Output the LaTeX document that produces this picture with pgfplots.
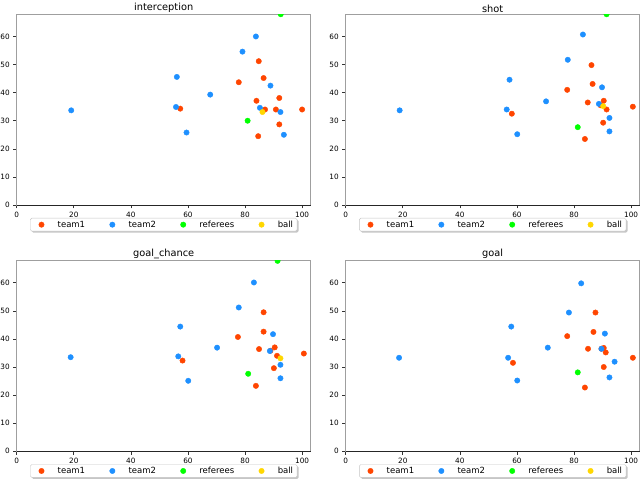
\documentclass[border=0pt]{standalone}
\usepackage{fontspec}
\setmainfont{DejaVu Sans}
\usepackage{pgfplots}
\pgfplotsset{compat=1.18}
\usetikzlibrary{shadows}

\definecolor{teamone}{HTML}{FF4500}
\definecolor{teamtwo}{HTML}{1E90FF}
\definecolor{refcol}{HTML}{00FF00}
\definecolor{ballcol}{HTML}{FFD700}

\pgfplotsset{
  every axis title shift=0pt,
  pitch/.style={
    scale only axis, width=294pt, height=191pt,
    xmin=0, xmax=103, ymin=0, ymax=68,
    xtick={0,20,...,100}, ytick={0,10,...,60},
    clip marker paths=true,
    tick align=outside, tick pos=left, major tick length=3.5pt,
    axis line style={gray!75, line width=0.6pt},
    tick style={black!80, line width=0.6pt},
    tick label style={font=\fontsize{7.3}{8}\selectfont},
    /pgf/number format/assume math mode=true,
    title style={font=\fontsize{9.8}{11}\selectfont, at={(0.5,1)}, anchor=south, inner sep=1pt, yshift=0.5pt},
    legend columns=4,
    legend style={at={(0.5,-0.068)}, anchor=north,
      font=\fontsize{8.5}{10}\selectfont, draw=gray!45, rounded corners=1.5pt, fill=white,
      drop shadow={shadow xshift=1.5pt, shadow yshift=-1.5pt, opacity=0.45, fill=gray},
      inner xsep=2pt, inner ysep=1pt,
      nodes={inner xsep=2pt, inner ysep=1.5pt},
      /tikz/every even column/.append style={column sep=16pt}},
    legend image code/.code={\path (-9pt,0pt) (14pt,0pt); \draw[#1] plot coordinates {(0pt,0pt)};},
    legend entries={team1,team2,referees,ball},
  },
  t1/.style={only marks, mark=*, mark size=2.7pt, color=teamone},
  t2/.style={only marks, mark=*, mark size=2.7pt, color=teamtwo},
  rf/.style={only marks, mark=*, mark size=2.7pt, color=refcol},
  bl/.style={only marks, mark=*, mark size=2.7pt, color=ballcol},
}

\begin{document}
\begin{tikzpicture}

% interception
\begin{axis}[pitch, at={(16.7pt,279pt)}, anchor=south west, name=tl, title={interception}]
\addplot[t1] coordinates {(57.3,34.3) (77.8,43.7) (84.8,51.2) (84.0,37.1) (86.5,45.2) (84.6,24.5) (87.0,34.0) (90.8,34.0) (92.0,38.1) (92.0,28.7) (100.0,34.0)};
\addplot[t2] coordinates {(19.1,33.7) (56.1,45.6) (55.8,34.9) (59.5,25.8) (67.8,39.3) (79.1,54.6) (83.8,60.0) (85.2,34.6) (88.9,42.5) (92.4,33.1) (93.6,25.0)};
\addplot[rf] coordinates {(92.5,67.9) (80.9,30.0)};
\addplot[bl] coordinates {(86.1,33.1)};
\end{axis}

% shot
\begin{axis}[pitch, at={(345.7pt,279pt)}, anchor=south west, name=tr, title={shot}]
\addplot[t1] coordinates {(58.2,32.5) (77.6,41.0) (86.1,49.8) (86.5,43.1) (84.8,36.5) (90.4,37.1) (89.3,35.5) (91.4,34.0) (90.2,29.3) (83.8,23.5) (100.6,35.0)};
\addplot[t2] coordinates {(18.9,33.7) (57.4,44.6) (56.4,34.0) (60.1,25.2) (70.2,36.9) (77.8,51.7) (83.1,60.7) (88.7,36.0) (89.8,41.9) (92.4,31.0) (92.4,26.2)};
\addplot[rf] coordinates {(91.4,67.9) (81.3,27.7)};
\addplot[bl] coordinates {(90.2,35.2)};
\end{axis}

% goal_chance
\begin{axis}[pitch, at={(16.7pt,32.7pt)}, anchor=south west, name=bl, title={goal\_chance}]
\addplot[t1] coordinates {(58.1,32.3) (77.5,40.7) (86.5,49.5) (86.5,42.6) (84.9,36.4) (90.4,37.0) (88.9,35.8) (91.2,34.0) (90.1,29.6) (83.8,23.3) (100.6,34.8)};
\addplot[t2] coordinates {(18.9,33.5) (57.3,44.4) (56.6,33.8) (60.1,25.1) (70.2,36.9) (77.8,51.2) (83.1,60.1) (88.7,35.7) (89.8,41.7) (92.4,30.8) (92.4,26.0)};
\addplot[rf] coordinates {(91.4,67.8) (81.1,27.6)};
\addplot[bl] coordinates {(92.4,33.1)};
\end{axis}

% goal
\begin{axis}[pitch, at={(345.7pt,32.7pt)}, anchor=south west, name=br, title={goal}]
\addplot[t1] coordinates {(58.6,31.5) (77.6,41.0) (87.5,49.4) (86.8,42.5) (84.9,36.5) (90.4,36.8) (91.1,35.2) (90.4,30.0) (83.8,22.7) (100.6,33.3) (89.6,36.5)};
\addplot[t2] coordinates {(18.7,33.3) (58.0,44.4) (56.9,33.3) (60.1,25.2) (70.8,36.9) (78.2,49.4) (82.5,59.8) (89.6,36.5) (90.8,41.9) (94.2,31.9) (92.4,26.3)};
\addplot[rf] coordinates {(92.0,68.1) (81.3,28.1)};
\addlegendimage{bl}
\end{axis}

\foreach \n in {tl,tr,bl,br}{
  \draw[black!85, line width=0.8pt] (\n.south west) -- (\n.south east);
}

\pgfresetboundingbox
\path (0pt,0pt) rectangle (640pt,484pt);
\end{tikzpicture}
\end{document}
